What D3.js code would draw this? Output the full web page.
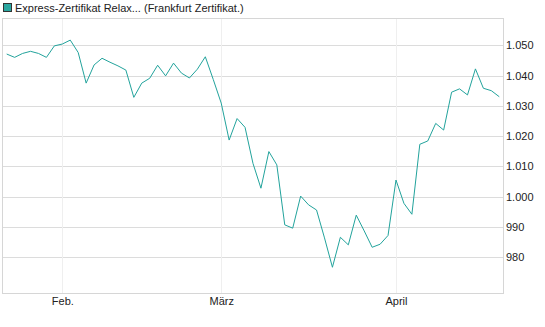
<!DOCTYPE html>
<html>
<head>
<meta charset="utf-8">
<script src="https://cdn.jsdelivr.net/npm/d3@7"></script>
<style>
  html, body { margin: 0; padding: 0; background: #fff; }
  svg { display: block; font-family: "Liberation Sans", Arial, sans-serif; }
</style>
</head>
<body>
<svg id="chart" width="545" height="327"></svg>
<script>
// ---- data ----
const seriesName = "Express-Zertifikat Relax... (Frankfurt Zertifikat.)";
// trading-day index -> price
const values = [
  1047.1, 1046.0, 1047.3, 1048.0, 1047.3, 1046.0, 1049.8, 1050.4, 1051.7, 1047.6,
  1037.5, 1043.5, 1045.7, 1044.4, 1043.2, 1041.8, 1032.8, 1037.5, 1039.1, 1043.4,
  1039.9, 1044.1, 1040.8, 1039.2, 1042.1, 1046.2, 1038.7, 1030.9, 1018.7, 1025.8,
  1022.9, 1011.0, 1002.8, 1014.9, 1010.5, 990.7, 989.6, 1000.2, 997.3, 995.6,
  986.4, 976.7, 986.6, 984.1, 993.9, 988.7, 983.3, 984.3, 987.2, 1005.5,
  997.8, 994.2, 1017.3, 1018.4, 1024.2, 1022.0, 1034.5, 1035.6, 1033.6, 1042.2,
  1035.8, 1035.0, 1033.0
];
const monthLabels = ["Feb.", "März", "April"];
const monthIndex = [7, 27, 49];           // index of first trading day of month
const yTicks = [980, 990, 1000, 1010, 1020, 1030, 1040, 1050];

// ---- layout ----
const pLeft = 3, pRight = 503, pTop = 18, pBottom = 293;
const svg = d3.select("#chart");

const x = d3.scaleLinear().domain([-0.466, 62.47]).range([pLeft, pRight]);
const y = d3.scaleLinear().domain([968.2, 1059.0]).range([pBottom, pTop]);

const fmtTick = v => v >= 1000 ? d3.format(",.0f")(v).replace(/,/g, ".") : String(v);

// horizontal grid
svg.append("g")
  .selectAll("line").data(yTicks).join("line")
  .attr("x1", pLeft).attr("x2", pRight)
  .attr("y1", d => Math.round(y(d)) + 0.5).attr("y2", d => Math.round(y(d)) + 0.5)
  .attr("stroke", "#dcdcdc").attr("stroke-width", 1);

// vertical month lines
svg.append("g")
  .selectAll("line").data(monthIndex).join("line")
  .attr("x1", d => Math.round(x(d)) + 0.5).attr("x2", d => Math.round(x(d)) + 0.5)
  .attr("y1", pTop).attr("y2", pBottom)
  .attr("stroke", "#efefef").attr("stroke-width", 1);

// plot frame
svg.append("rect")
  .attr("x", pLeft - 0.5).attr("y", pTop + 0.5)
  .attr("width", pRight - pLeft + 1).attr("height", pBottom - pTop)
  .attr("fill", "none").attr("stroke", "#d6d6d6").attr("stroke-width", 1);

// y axis labels (right side)
const yAxis = d3.axisRight(y).tickValues(yTicks).tickSize(0).tickPadding(3).tickFormat(fmtTick);
const gy = svg.append("g").attr("transform", `translate(${pRight},0)`).call(yAxis);
gy.select(".domain").remove();
gy.selectAll("text").attr("font-size", 11).attr("fill", "#222")
  .attr("font-family", "Liberation Sans, Arial, sans-serif");

// x axis labels
const xAxis = d3.axisBottom(x).tickValues(monthIndex).tickSize(0).tickPadding(4)
  .tickFormat((d, i) => monthLabels[i]);
const gx = svg.append("g").attr("transform", `translate(0,${pBottom})`).call(xAxis);
gx.select(".domain").remove();
gx.selectAll("text").attr("font-size", 11).attr("fill", "#222")
  .attr("font-family", "Liberation Sans, Arial, sans-serif");

// line
const line = d3.line().x((d, i) => x(i)).y(d => y(d));
svg.append("path").datum(values)
  .attr("d", line)
  .attr("fill", "none")
  .attr("stroke", "#22a39c")
  .attr("stroke-width", 1);

// legend
svg.append("rect").attr("x", 3.5).attr("y", 3.5).attr("width", 8).attr("height", 8)
  .attr("fill", "#2aa7a0").attr("stroke", "#333").attr("stroke-width", 1);
svg.append("text").attr("x", 15).attr("y", 12)
  .attr("font-size", 11).attr("fill", "#222")
  .text(seriesName);
</script>
</body>
</html>
